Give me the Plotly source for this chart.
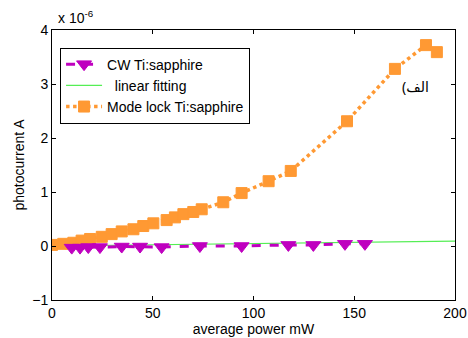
import plotly.graph_objects as go

# Mode lock Ti:sapphire (photocurrent in units of 1e-6 A)
ml_x = [0.0, 5.6, 10.6, 14.7, 18.9, 24.7, 29.6, 34.6, 40.4, 45.3, 50.3, 56.9, 61.0,
        65.2, 70.1, 74.3, 85.0, 94.1, 107.5, 118.5, 146.4, 170.2, 185.6, 191.0]
ml_y = [0.02, 0.04, 0.06, 0.10, 0.13, 0.17, 0.22, 0.27, 0.31, 0.37, 0.42, 0.48, 0.53,
        0.59, 0.63, 0.68, 0.81, 0.98, 1.20, 1.39, 2.31, 3.28, 3.72, 3.59]

# CW Ti:sapphire
cw_x = [9.8, 13.9, 18.0, 23.8, 34.6, 43.7, 54.4, 73.4, 94.1, 117.3, 129.7, 145.4, 155.3]
cw_y = [-0.03, -0.03, -0.02, -0.02, -0.01, -0.01, -0.02, 0.0, 0.0, 0.02, 0.02, 0.04, 0.04]

# linear fitting
fit_x = [0, 200]
fit_y = [0.0, 0.09]

x_ticks = [0, 50, 100, 150, 200]
y_ticks = [-1, 0, 1, 2, 3, 4]

FONT = "Arial, Liberation Sans, sans-serif"
PURPLE = "#BF00BF"
ORANGE = "#FF9933"
GREEN = "#55EE55"
FS = 14

fig = go.Figure()
fig.add_trace(go.Scatter(
    x=fit_x, y=fit_y, mode="lines", name="  linear fitting",
    line=dict(color=GREEN, width=1.2), legendrank=2))
fig.add_trace(go.Scatter(
    x=ml_x, y=ml_y, mode="lines+markers", name="Mode lock Ti:sapphire",
    line=dict(color=ORANGE, width=3.5, dash="dot"),
    marker=dict(symbol="square", size=11, color=ORANGE,
                line=dict(color=ORANGE, width=1)), legendrank=3))
fig.add_trace(go.Scatter(
    x=cw_x, y=cw_y, mode="lines+markers", name="CW Ti:sapphire",
    line=dict(color=PURPLE, width=3, dash="dash"),
    marker=dict(symbol="triangle-down", size=13, color=PURPLE,
                line=dict(color=PURPLE, width=1)), legendrank=1))

fig.add_annotation(x=180.6, y=2.96, xref="x", yref="y", text="(الف",
                   showarrow=False, font=dict(family="Noto Sans, DejaVu Sans", size=14, color="black"))
fig.add_annotation(x=0.01, y=1, xref="paper", yref="paper", xanchor="left", yanchor="bottom",
                   yshift=2, text="x 10<sup>-6</sup>", showarrow=False,
                   font=dict(family=FONT, size=FS, color="black"))

axis_common = dict(showline=True, linecolor="black", linewidth=1, mirror="ticks",
                   ticks="inside", ticklen=4, tickcolor="black", showgrid=False,
                   zeroline=False, automargin=False,
                   tickfont=dict(family=FONT, size=FS, color="black"),
                   title_font=dict(family=FONT, size=FS, color="black"))

fig.update_xaxes(range=[0, 200], tickvals=x_ticks, title_text="average power mW",
                 title_standoff=2, **axis_common)
fig.update_yaxes(range=[-1, 4], tickvals=y_ticks, title_text="photocurrent A",
                 title_standoff=4, **axis_common)

fig.update_layout(
    width=468, height=338,
    margin=dict(l=52, r=13, t=30, b=38),
    paper_bgcolor="white", plot_bgcolor="white",
    font=dict(family=FONT, size=FS, color="black"),
    legend=dict(x=0.02, y=0.935, xanchor="left", yanchor="top",
                bgcolor="white", bordercolor="black", borderwidth=1,
                font=dict(family=FONT, size=FS, color="black"),
                tracegroupgap=0, itemwidth=36),
    showlegend=True,
)

fig.write_html("out.html", config={"displayModeBar": False},
               post_script="document.body.style.margin='0';document.body.style.overflow='hidden';")
